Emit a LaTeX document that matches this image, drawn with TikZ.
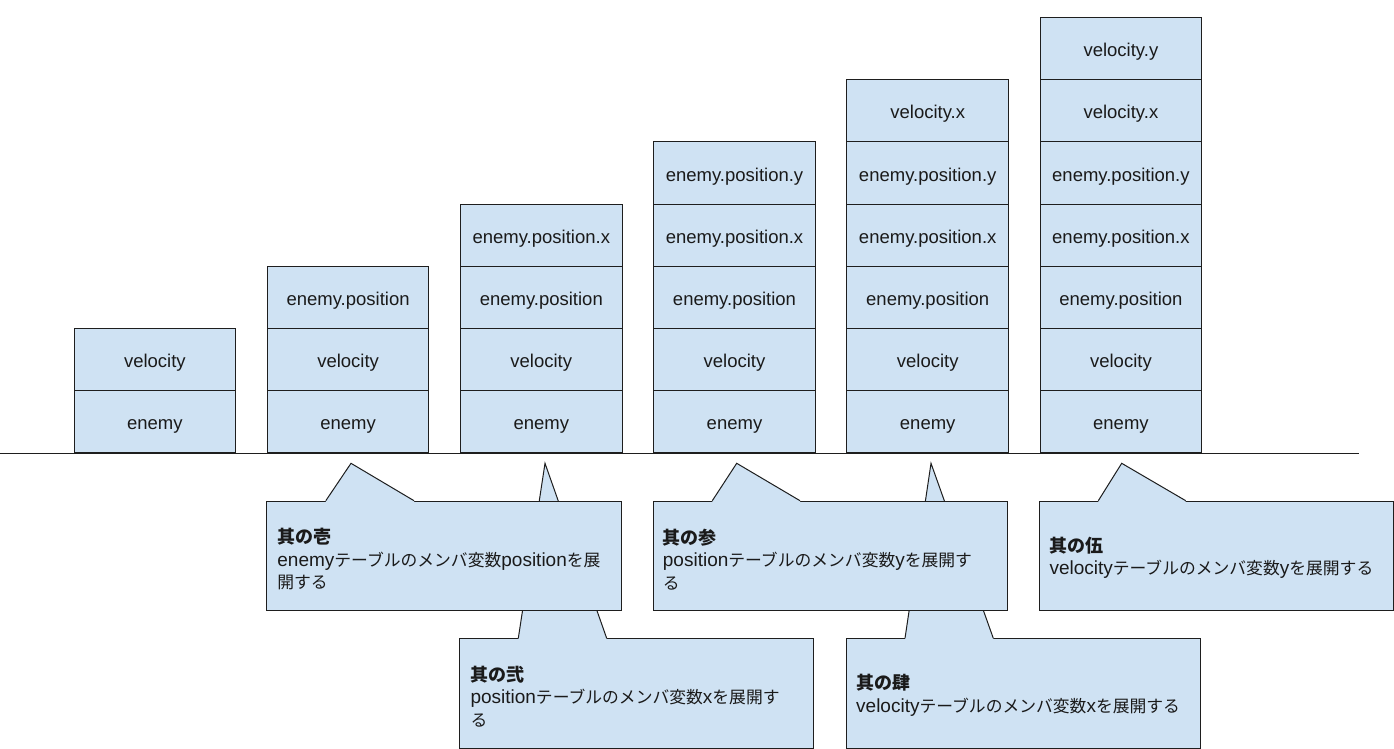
\documentclass[tikz,border=0pt]{standalone}
\usepackage{fontspec}
\setmainfont{Liberation Sans}
\newfontfamily\jpfont[Scale=0.884]{Noto Sans CJK JP}
\newfontfamily\jphead[Scale=0.947]{Noto Sans CJK JP}
\newcommand\J[1]{{\jpfont #1}}
\newcommand\Hd[1]{{\jphead\bfseries #1}}
\usetikzlibrary{calc}
\definecolor{boxfill}{HTML}{CFE2F3}
\definecolor{linec}{HTML}{1E1E1E}
\definecolor{txt}{HTML}{1A1A1A}
\newcommand\callptr[4]{%
  \fill[boxfill] ($(#1.north west)+(#3,1.6)$) -- ($(#1.north west)+(#3,-0.4)$) -- (#2) -- ($(#1.north west)+(#4,-0.4)$) -- ($(#1.north west)+(#4,1.6)$) -- cycle;
  \draw[seg] ($(#1.north west)+(#3,0)$) -- (#2) -- ($(#1.north west)+(#4,0)$);}
\begin{document}
\begin{tikzpicture}[x=1pt,y=-1pt,
  cell/.style={draw=linec, line width=1pt, fill=boxfill, minimum width=161.6pt,
    minimum height=62.2pt, inner sep=0pt, anchor=south west,
    text height=16.5pt, text depth=0pt,
    font=\fontsize{18.5}{22}\selectfont, text=txt},
  callbox/.style={draw=linec, line width=1pt, fill=boxfill, anchor=north west,
    minimum height=109.3pt, inner sep=0pt},
  calltext/.style={anchor=west, inner sep=0pt, align=left,
    font=\fontsize{19}{22.5}\selectfont, text=txt},
  seg/.style={draw=linec, line width=1pt, line join=miter}]
\useasboundingbox (0,0) rectangle (1394,749);
% stacks
\foreach \c/\labels in {0/{enemy,velocity},
  1/{enemy,velocity,enemy.position},
  2/{enemy,velocity,enemy.position,enemy.position.x},
  3/{enemy,velocity,enemy.position,enemy.position.x,enemy.position.y},
  4/{enemy,velocity,enemy.position,enemy.position.x,enemy.position.y,velocity.x},
  5/{enemy,velocity,enemy.position,enemy.position.x,enemy.position.y,velocity.x,velocity.y}}{
  \foreach \t [count=\k from 0] in \labels {
    \node[cell] (b\c-\k) at ({73.6+193.2*\c},{453.3-62.2*\k}) {\t};
  }
}
% axis line
\coordinate (axL) at (0,453.3);
\coordinate (axR) at (1359,453.3);
\draw[seg] (axL) -- (axR);
% pointer tips
\coordinate (t1) at (351,463.3);
\coordinate (t2) at (545,463.3);
\coordinate (t3) at (736.7,463.3);
\coordinate (t4) at (931,463.3);
\coordinate (t5) at (1121.7,463.3);
% callout 2 (behind 1)
\node[callbox, minimum width=354pt] (c2) at (459.3,638.3) {};
\callptr{c2}{t2}{59}{147.4}
\node[calltext] (c2t) at ($(c2.west)+(11,3)$)
  {\Hd{其の弐}\\position\J{テーブルのメンバ変数}x\J{を展開す}\\\J{る}};
% callout 1
\node[callbox, minimum width=355pt] (c1) at (266.2,500.7) {};
\callptr{c1}{t1}{59.6}{147.8}
\node[calltext] (c1t) at ($(c1.west)+(11,3.5)$)
  {\Hd{其の壱}\\enemy\J{テーブルのメンバ変数}position\J{を展}\\\J{開する}};
% callout 4 (behind 3)
\node[callbox, minimum width=354pt] (c4) at (846,638.3) {};
\callptr{c4}{t4}{59}{147.3}
\node[calltext] (c4t) at ($(c4.west)+(10,2)$)
  {\Hd{其の肆}\\velocity\J{テーブルのメンバ変数}x\J{を展開する}};
% callout 3
\node[callbox, minimum width=354.6pt] (c3) at (652.7,500.7) {};
\callptr{c3}{t3}{59.6}{147.3}
\node[calltext] (c3t) at ($(c3.west)+(10,3.5)$)
  {\Hd{其の参}\\position\J{テーブルのメンバ変数}y\J{を展開す}\\\J{る}};
% callout 5
\node[callbox, minimum width=353.8pt] (c5) at (1039.3,500.7) {};
\callptr{c5}{t5}{59}{146.4}
\node[calltext] (c5t) at ($(c5.west)+(10,2)$)
  {\Hd{其の伍}\\velocity\J{テーブルのメンバ変数}y\J{を展開する}};
\end{tikzpicture}
\end{document}
